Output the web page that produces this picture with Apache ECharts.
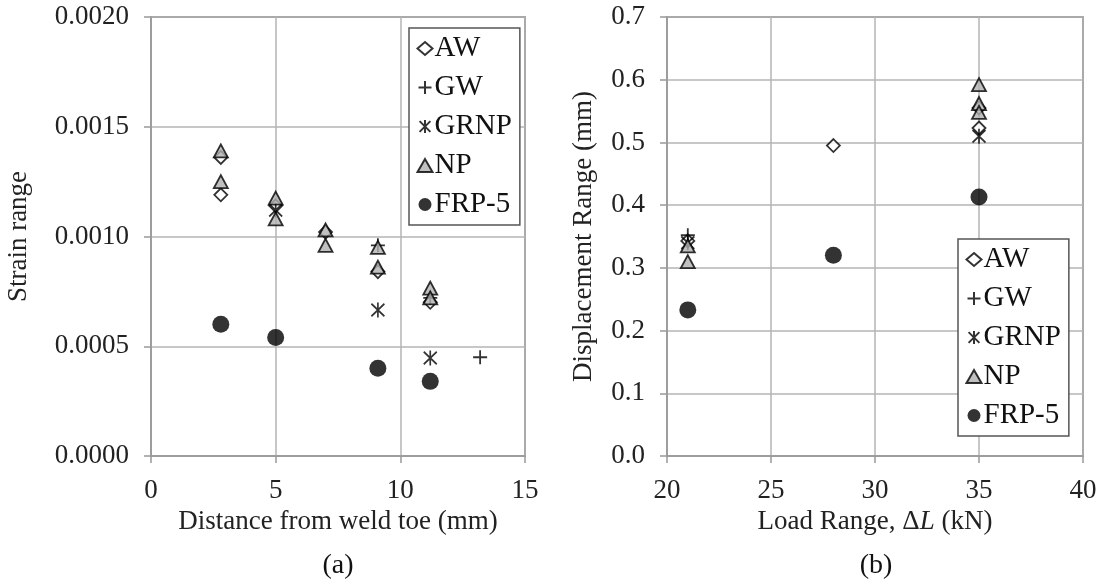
<!DOCTYPE html>
<html><head><meta charset="utf-8">
<script src="https://cdn.jsdelivr.net/npm/echarts@6/dist/echarts.min.js"></script>
<style>html,body{margin:0;padding:0;background:#fff}#c{width:1100px;height:588px}</style>
</head><body><div id="c"></div>
<script>
// ---- data (a) Distance from weld toe (mm) vs strain range ----
const seriesNames = ['AW', 'GW', 'GRNP', 'NP', 'FRP-5'];
const awA   = [[2.8,0.00136],[2.8,0.00119],[5,0.00114],[7,0.00102],[9.1,0.00084],[11.2,0.00070]];
const gwA   = [[9.1,0.00096],[11.2,0.00072],[13.2,0.00045]];
const grnpA = [[5,0.00112],[9.1,0.000665],[11.2,0.000446]];
const npA   = [[2.8,0.00139],[2.8,0.00125],[5,0.001175],[5,0.00108],[7,0.00103],[7,0.00096],[9.1,0.00095],[9.1,0.00086],[11.2,0.000765],[11.2,0.00072]];
const frpA  = [[2.8,0.00060],[5,0.00054],[9.1,0.00040],[11.2,0.00034]];
// ---- data (b) Load range (kN) vs displacement range (mm) ----
const awB   = [[21,0.343],[28,0.495],[35,0.555],[35,0.523]];
const gwB   = [[21,0.352]];
const grnpB = [[21,0.340],[35,0.510]];
const npB   = [[21,0.335],[21,0.310],[35,0.592],[35,0.562],[35,0.548]];
const frpB  = [[21,0.233],[28,0.320],[35,0.413]];
// axis ranges / ticks
const xA = {min:0, max:15, interval:5};
const yA = {min:0, max:0.002, interval:0.0005};
const xB = {min:20, max:40, interval:5};
const yB = {min:0, max:0.7, interval:0.1};

const FONT = 'Liberation Serif';
const FS = 27;
const gridLine = {show:true, lineStyle:{color:'#b4b4b4', width:1.5}};
const styles = {
  'AW':   {symbol:'diamond', symbolSize:[13,13], itemStyle:{color:'#fff', borderColor:'#000', borderWidth:1.8}},
  'GW':   {symbol:'path://M5,0 L5,10 M0,5 L10,5', symbolSize:14, itemStyle:{color:'none', borderColor:'#000', borderWidth:1.8}},
  'GRNP': {symbol:'path://M0,0 L10,10 M10,0 L0,10 M5,-1 L5,11', symbolSize:[13,15], itemStyle:{color:'none', borderColor:'#000', borderWidth:1.8}},
  'NP':   {symbol:'triangle', symbolSize:[14,13], itemStyle:{color:'#b0b0b0', borderColor:'#000', borderWidth:1.8}},
  'FRP-5':{symbol:'circle', symbolSize:17, itemStyle:{color:'#000', borderColor:'#000', borderWidth:0}}
};
function mk(name, data, idx){
  return Object.assign({type:'scatter', name, data, xAxisIndex:idx, yAxisIndex:idx, emphasis:{disabled:true}, animation:false}, styles[name]);
}
function xAxis(r, idx, name, gap){
  return {type:'value', gridIndex:idx, min:r.min, max:r.max, interval:r.interval,
    axisLine:{show:true, onZero:false, lineStyle:{color:'#999', width:1.5}},
    axisTick:{show:true, inside:false, length:7, lineStyle:{color:'#999', width:1.5}},
    axisLabel:{fontFamily:FONT, fontSize:FS, color:'#222', margin:21},
    splitLine:gridLine, name, nameLocation:'middle', nameGap:gap,
    nameTextStyle:{fontFamily:FONT, fontSize:FS, color:'#222'}};
}
function yAxis(r, idx, name, gap, dec){
  return {type:'value', gridIndex:idx, min:r.min, max:r.max, interval:r.interval,
    axisLine:{show:true, onZero:false, lineStyle:{color:'#999', width:1.5}},
    axisTick:{show:true, inside:false, length:7, lineStyle:{color:'#999', width:1.5}},
    axisLabel:{fontFamily:FONT, fontSize:FS, color:'#222', margin:22, formatter:v=>v.toFixed(dec)},
    splitLine:gridLine, name, nameLocation:'middle', nameGap:gap,
    nameTextStyle:{fontFamily:FONT, fontSize:FS, color:'#222'}};
}
function legend(pos){
  return Object.assign({orient:'vertical', data:seriesNames, backgroundColor:'#fff', borderColor:'#555', borderWidth:1.5,
    borderRadius:0, padding:[6,8,6,7], itemGap:10, itemWidth:15, itemHeight:13, selectedMode:false,
    textStyle:{fontFamily:FONT, fontSize:29, color:'#111', lineHeight:28, padding:[0,0,0,-3]}}, pos);
}
const chart = echarts.init(document.getElementById('c'), null, {renderer:'canvas'});
chart.setOption({
  backgroundColor:'#fff',
  animation:false,
  textStyle:{fontFamily:FONT},
  grid:[
    {left:151, right:575, top:17, bottom:132, show:true, borderColor:'#666', borderWidth:1.5, backgroundColor:'transparent'},
    {left:667, right:17, top:17, bottom:132, show:true, borderColor:'#666', borderWidth:1.5, backgroundColor:'transparent'}
  ],
  xAxis:[xAxis(xA,0,'Distance from weld toe (mm)',52),
         Object.assign(xAxis(xB,1,'',52), {name:'{n|Load Range, Δ}{i|L}{n| (kN)}', nameTextStyle:{fontFamily:FONT, fontSize:FS, color:'#222', rich:{n:{fontFamily:FONT,fontSize:FS,color:'#222'}, i:{fontFamily:FONT,fontSize:FS,color:'#222',fontStyle:'italic'}}}})],
  yAxis:[yAxis(yA,0,'Strain range',119,4), yAxis(yB,1,'Displacement Range (mm)',70,1)],
  legend:[legend({left:409, top:28}), legend({left:958, top:239})],
  series:[
    mk('AW',awA,0), mk('GW',gwA,0), mk('GRNP',grnpA,0), mk('NP',npA,0), mk('FRP-5',frpA,0),
    mk('AW',awB,1), mk('GW',gwB,1), mk('GRNP',grnpB,1), mk('NP',npB,1), mk('FRP-5',frpB,1)
  ],
  graphic:[
    {type:'text', x:338, y:566, style:{text:'(a)', fontFamily:FONT, fontSize:28, fill:'#111', align:'center', verticalAlign:'middle'}},
    {type:'text', x:876, y:566, style:{text:'(b)', fontFamily:FONT, fontSize:28, fill:'#111', align:'center', verticalAlign:'middle'}}
  ]
});
</script></body></html>
